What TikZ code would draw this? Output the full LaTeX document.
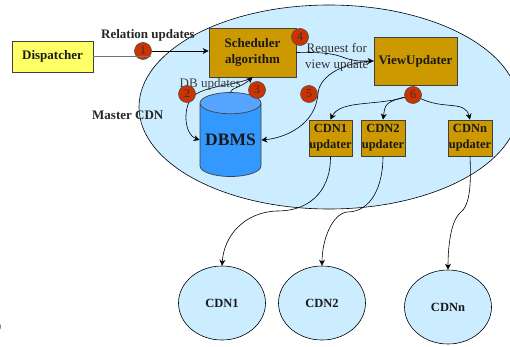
\documentclass[tikz,border=0pt]{standalone}
\usepackage{fontspec}
\setmainfont{Liberation Serif}
\usetikzlibrary{arrows.meta,shapes.geometric}
\definecolor{lblue}{RGB}{204,236,255}
\definecolor{gold}{RGB}{204,153,0}
\definecolor{ored}{RGB}{204,51,0}
\definecolor{cylblue}{RGB}{51,153,255}
\definecolor{cyltop}{RGB}{85,165,255}
\definecolor{lyellow}{RGB}{255,255,102}
\tikzset{
  box/.style={draw=black!75,line width=.8pt,fill=gold,font=\bfseries\fontsize{13}{16}\selectfont,align=center,inner sep=0pt,text=black!90},
  ubox/.style={box,minimum height=36pt,font=\bfseries\fontsize{12.5}{16}\selectfont},
  num/.style={circle,draw=black!70,line width=.6pt,fill=ored,minimum size=17pt,inner sep=0pt,font=\fontsize{12}{12}\selectfont,text=black!80},
  cdn/.style={ellipse,draw=black,line width=.6pt,fill=lblue,minimum width=87pt,minimum height=74pt,inner sep=0pt,font=\bfseries\fontsize{12.5}{14}\selectfont,text=black!90},
  lab/.style={font=\fontsize{13}{16.5}\selectfont,inner sep=0pt,align=center},
  blab/.style={font=\bfseries\fontsize{13}{15}\selectfont,inner sep=0pt,text=black!85},
  con/.style={draw=black,line width=.6pt,-{Stealth[length=6pt,width=6pt]}}
}
\begin{document}
\begin{tikzpicture}[x=1pt,y=-1pt]
\useasboundingbox (0,0) rectangle (510,347);
\clip (0,0) rectangle (510,347);
\node[ellipse,draw=black,line width=.6pt,fill=lblue,minimum width=380pt,minimum height=204pt,inner sep=0pt] (master) at (329,107) {};
\node[cdn] (c1) at (222,303) {CDN1};
\node[cdn] (c2) at (322,303) {CDN2};
\node[cdn] (cn) at (448,307) {CDNn};
\node[draw=black!75,line width=.8pt,fill=lyellow,font=\bfseries\fontsize{13}{15}\selectfont,minimum width=81pt,minimum height=31pt,inner sep=0pt,text=black!90] (disp) at (52.5,56.5) {Dispatcher};
\node[box,minimum width=87pt,minimum height=49pt] (sched) at (252.5,52.5) {Scheduler\\algorithm};
\node[box,minimum width=83pt,minimum height=48pt] (view) at (415.5,61) {ViewUpdater};
\node[ubox,minimum width=43pt] (u1) at (330.5,138) {CDN1\\updater};
\node[ubox,minimum width=44pt] (u2) at (383,138) {CDN2\\updater};
\node[ubox,minimum width=44pt] (un) at (470,138) {CDNn\\updater};
\node[cylinder,shape border rotate=90,aspect=.42,draw=black!75,line width=.7pt,cylinder uses custom fill,cylinder body fill=cylblue,cylinder end fill=cyltop,minimum width=61pt,minimum height=84pt,inner sep=0pt,font=\bfseries\fontsize{17.5}{20}\selectfont,text=black!90] (db) at (230.5,140) {DBMS};
% connectors
\node[num] (n1) at (143,51) {1};
\draw[line width=1.5pt,black!55] (disp.east) -- (151,56.5) coordinate (gs);
\draw[con] (n1.east) -- (sched.west |- n1.east);
\draw[con] (sched.south) .. controls (240,85) and (205,85) .. (192,97) .. controls (182,110) and (185,135) .. (db.west);
\draw[con] (db.north) .. controls (231,88) and (240,88) .. (sched.south);
\draw[con] (sched.east) .. controls (325,52) and (335,54) .. (345,58) .. controls (355,61) .. (view.west);
\draw[con] (view.west) .. controls (345,62) and (320,75) .. (318,93) .. controls (316,125) and (285,138) .. (db.east);
\node[num] (n6) at (413,95) {6};
\draw[con] (n6) .. controls (375,106) and (340,100) .. (u1.north);
\draw[con] (n6) .. controls (385,102) and (385,105) .. (u2.north);
\draw[con] (n6) .. controls (445,110) and (465,100) .. (un.north);
\draw[con] (u1.south) .. controls (331,185) and (315,211) .. (277,211) .. controls (245,212) and (224,235) .. (c1.north);
\draw[con] (u2.south) .. controls (383,185) and (372,212) .. (347,212) .. controls (332,214) and (322,240) .. (c2.north);
\draw[con] (un.south) .. controls (471,180) and (471,205) .. (460,213) .. controls (450,222) and (448,250) .. (cn.north);
% labels
\node[blab,anchor=west] (relab) at (101,35) {Relation updates};
\node[blab,anchor=west] (mlab) at (92,115) {Master CDN};
\node[lab,anchor=west,text=black!75] (dblab) at (179.5,84) {DB updates};
\node[lab,anchor=west,text=black!80] (req) at (305,57.5) {Request for\\view update};
\node[font=\fontsize{13}{15}\selectfont,inner sep=0pt] (zero) at (-2.2,327) {0};
\node[num] (n2) at (187,94) {2};
\node[num] (n3) at (257,90) {3};
\node[num] (n4) at (300,37) {4};
\node[num] (n5) at (309,94) {5};
\end{tikzpicture}
\end{document}
